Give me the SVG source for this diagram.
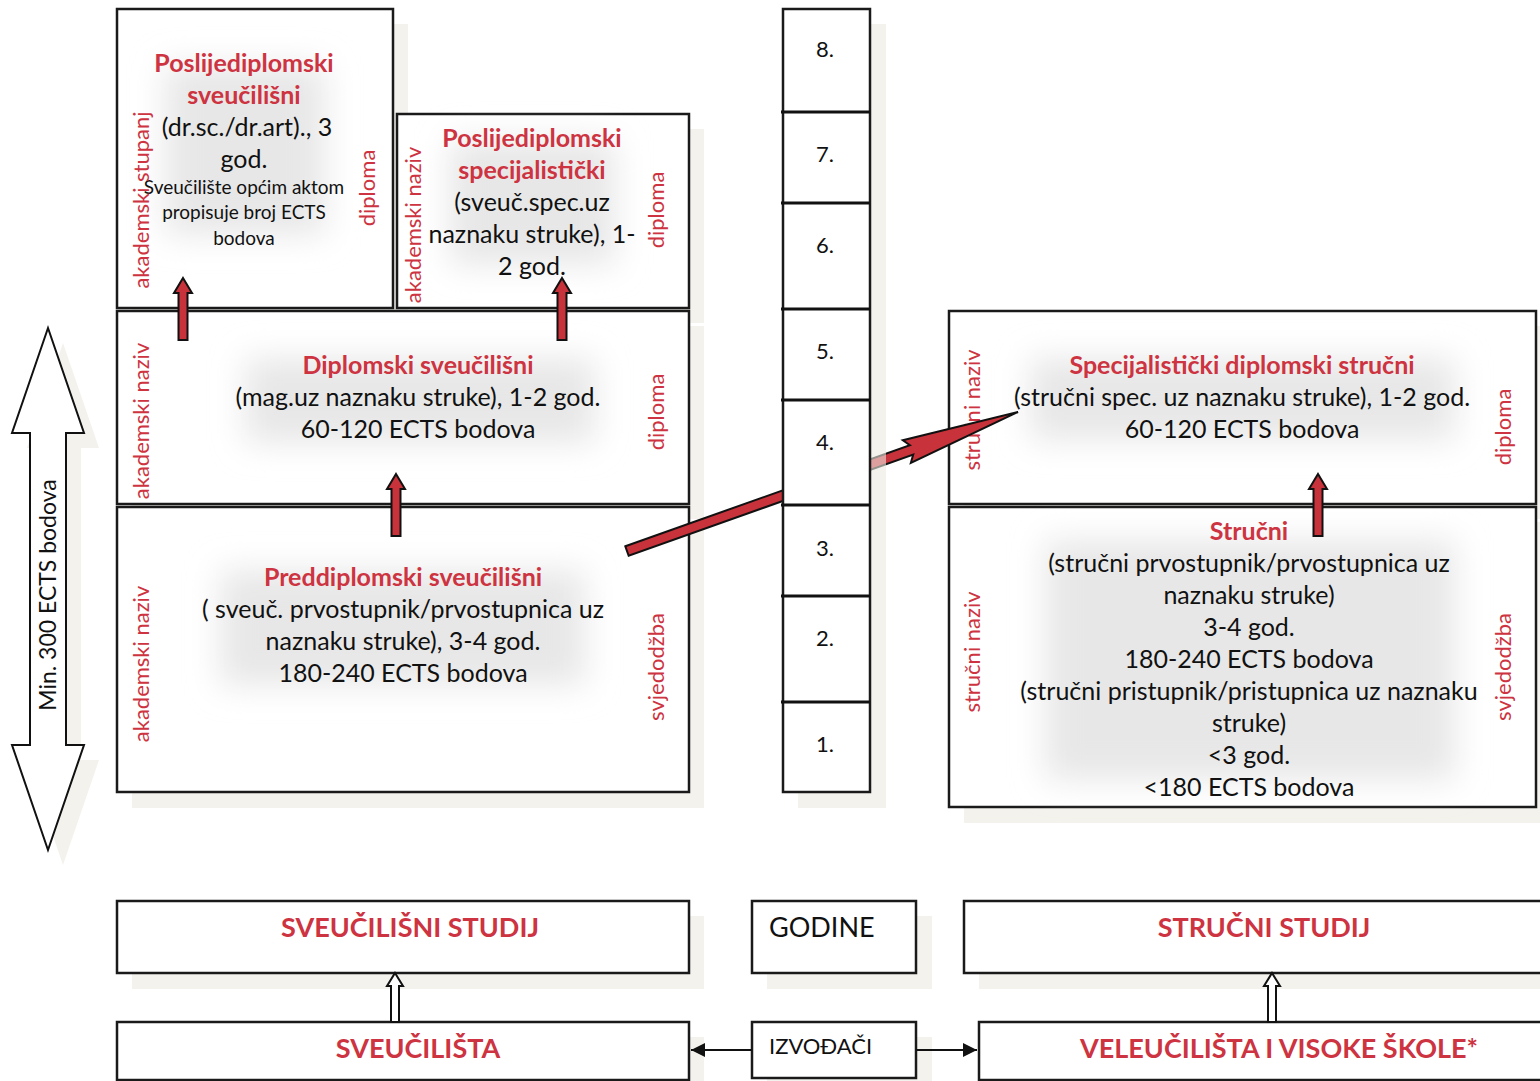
<svg xmlns="http://www.w3.org/2000/svg" width="1540" height="1081" viewBox="0 0 1540 1081">
<defs>
<style>
.box{fill:#fff;stroke:#1a1a1a;stroke-width:2.5}
.sh{fill:#f3f2ed}
.glow{fill:#e7e7e7;filter:url(#blur)}
.t{font-family:Lato,"Liberation Sans",sans-serif;font-size:25px;fill:#111;text-anchor:middle}
.tl{font-family:Lato,"Liberation Sans",sans-serif;fill:#111;text-anchor:start}
.ts{font-family:Lato,"Liberation Sans",sans-serif;font-size:19px;fill:#111;text-anchor:middle}
.h{font-family:Lato,"Liberation Sans",sans-serif;font-size:25px;font-weight:bold;fill:#cd3340;text-anchor:middle}
.side{font-family:Lato,"Liberation Sans",sans-serif;font-size:22px;fill:#cd3340;text-anchor:middle}
.big{font-family:Lato,"Liberation Sans",sans-serif;font-size:27px;font-weight:bold;fill:#cd3340;text-anchor:middle}
.yr{font-family:Lato,"Liberation Sans",sans-serif;font-size:22px;fill:#111;text-anchor:middle}
.red{fill:#c8323a;stroke:#111;stroke-width:2}
.hol{fill:#fff;stroke:#111;stroke-width:2}
</style>
<filter id="blur" x="-50%" y="-50%" width="200%" height="200%"><feGaussianBlur stdDeviation="16"/></filter>
<path id="rarrow" d="M0,0 L9,15 L4.5,15 L4.5,62 L-4.5,62 L-4.5,15 L-9,15 Z"/>
<path id="harrow" d="M0,0 L8,13 L4,13 L4,49 L-4,49 L-4,13 L-8,13 Z"/>
<marker id="ah" viewBox="0 0 14 14" refX="14" refY="7" markerWidth="14" markerHeight="14" markerUnits="userSpaceOnUse" orient="auto"><path d="M0,0 L14,7 L0,14 Z" fill="#111"/></marker>
</defs>
<rect width="1540" height="1081" fill="#fff"/>

<g id="ects-arrow">
<polygon class="sh" transform="translate(15,15)" points="48,328 84,433 66,433 66,745 84,745 48,850 12,745 30,745 30,433 12,433"/>
<polygon points="48,328 84,433 66,433 66,745 84,745 48,850 12,745 30,745 30,433 12,433" fill="#fff" stroke="#111" stroke-width="2"/>
<text class="t" transform="translate(56,595) rotate(-90)" font-size="23" style="font-size:23px">Min. 300 ECTS bodova</text>
</g>

<g id="node-postgrad-univ">
<rect class="sh" x="132" y="24" width="276" height="299"/>
<rect class="box" x="117" y="9" width="276" height="299"/>
<rect class="glow" x="165" y="65" width="160" height="170"/>
<text class="h" x="244" y="72">Poslijediplomski</text>
<text class="h" x="244" y="104">sveučilišni</text>
<text class="t" x="247" y="136">(dr.sc./dr.art)., 3</text>
<text class="t" x="244" y="168">god.</text>
<text class="ts" x="244" y="194">Sveučilište općim aktom</text>
<text class="ts" x="244" y="219">propisuje broj ECTS</text>
<text class="ts" x="244" y="245">bodova</text>
<text class="side" transform="translate(149,200) rotate(-90)">akademski stupanj</text>
<text class="side" transform="translate(375,188) rotate(-90)">diploma</text>
</g>

<g id="node-postgrad-spec">
<rect class="sh" x="412" y="129" width="292" height="194"/>
<rect class="box" x="397" y="114" width="292" height="194"/>
<rect class="glow" x="450" y="140" width="165" height="125"/>
<text class="h" x="532" y="147">Poslijediplomski</text>
<text class="h" x="532" y="179">specijalistički</text>
<text class="t" x="532" y="211">(sveuč.spec.uz</text>
<text class="t" x="532" y="243">naznaku struke), 1-</text>
<text class="t" x="532" y="275">2 god.</text>
<text class="side" transform="translate(421,225) rotate(-90)">akademski naziv</text>
<text class="side" transform="translate(664,210) rotate(-90)">diploma</text>
</g>

<g id="node-diplomski">
<rect class="sh" x="132" y="326" width="572" height="193"/>
<rect class="box" x="117" y="311" width="572" height="193"/>
<rect class="glow" x="245" y="358" width="350" height="85"/>
<text class="h" x="418" y="374">Diplomski sveučilišni</text>
<text class="t" x="418" y="406">(mag.uz naznaku struke), 1-2 god.</text>
<text class="t" x="418" y="438">60-120 ECTS bodova</text>
<text class="side" transform="translate(149,421) rotate(-90)">akademski naziv</text>
<text class="side" transform="translate(664,412) rotate(-90)">diploma</text>
</g>

<g id="node-preddiplomski">
<rect class="sh" x="132" y="522" width="572" height="286"/>
<rect class="box" x="117" y="507" width="572" height="285"/>
<rect class="glow" x="220" y="570" width="365" height="115"/>
<text class="h" x="403" y="586">Preddiplomski sveučilišni</text>
<text class="t" x="403" y="618">( sveuč. prvostupnik/prvostupnica uz</text>
<text class="t" x="403" y="650">naznaku struke), 3-4 god.</text>
<text class="t" x="403" y="682">180-240 ECTS bodova</text>
<text class="side" transform="translate(149,664) rotate(-90)">akademski naziv</text>
<text class="side" transform="translate(664,667) rotate(-90)">svjedodžba</text>
</g>

<g id="node-spec-strucni">
<rect class="sh" x="964" y="326" width="590" height="193"/>
<rect class="box" x="949" y="311" width="587" height="193"/>
<rect class="glow" x="1030" y="358" width="425" height="82"/>
<text class="h" x="1242" y="374">Specijalistički diplomski stručni</text>
<text class="t" x="1242" y="406">(stručni spec. uz naznaku struke), 1-2 god.</text>
<text class="t" x="1242" y="438">60-120 ECTS bodova</text>
<text class="side" transform="translate(980,410) rotate(-90)">stručni naziv</text>
<text class="side" transform="translate(1511,427) rotate(-90)">diploma</text>
</g>

<g id="node-strucni">
<rect class="sh" x="964" y="522" width="590" height="301"/>
<rect class="box" x="949" y="507" width="587" height="300"/>
<rect class="glow" x="1045" y="540" width="410" height="240"/>
<text class="h" x="1249" y="540">Stručni</text>
<text class="t" x="1249" y="572">(stručni prvostupnik/prvostupnica uz</text>
<text class="t" x="1249" y="604">naznaku struke)</text>
<text class="t" x="1249" y="636">3-4 god.</text>
<text class="t" x="1249" y="668">180-240 ECTS bodova</text>
<text class="t" x="1249" y="700">(stručni pristupnik/pristupnica uz naznaku</text>
<text class="t" x="1249" y="732">struke)</text>
<text class="t" x="1249" y="764">&lt;3 god.</text>
<text class="t" x="1249" y="796">&lt;180 ECTS bodova</text>
<text class="side" transform="translate(980,652) rotate(-90)">stručni naziv</text>
<text class="side" transform="translate(1511,667) rotate(-90)">svjedodžba</text>
</g>

<g id="node-sveucilisni-studij">
<rect class="sh" x="132" y="916" width="572" height="73"/>
<rect class="box" x="117" y="901" width="572" height="72"/>
<text class="big" x="410" y="937">SVEUČILIŠNI STUDIJ</text>
</g>
<g id="node-godine">
<rect class="sh" x="767" y="916" width="165" height="73"/>
<rect class="box" x="752" y="901" width="164" height="72"/>
<text class="tl" x="769" y="937" style="font-size:27px">GODINE</text>
</g>
<g id="node-strucni-studij">
<rect class="sh" x="979" y="916" width="580" height="73"/>
<rect class="box" x="964" y="901" width="590" height="72"/>
<text class="big" x="1264" y="937">STRUČNI STUDIJ</text>
</g>
<g id="node-sveucilista">
<rect class="sh" x="132" y="1037" width="572" height="60"/>
<rect class="box" x="117" y="1022" width="572" height="58"/>
<text class="big" x="418" y="1058">SVEUČILIŠTA</text>
</g>
<g id="node-izvodaci">
<rect class="sh" x="767" y="1037" width="165" height="60"/>
<rect class="box" x="752" y="1022" width="164" height="56"/>
<text class="tl" x="769" y="1054" style="font-size:22px">IZVOĐAČI</text>
</g>
<g id="node-veleucilista">
<rect class="sh" x="994" y="1037" width="580" height="60"/>
<rect class="box" x="979" y="1022" width="590" height="58"/>
<text class="big" x="1279" y="1058">VELEUČILIŠTA I VISOKE ŠKOLE*</text>
</g>

<g id="connectors">
<use href="#rarrow" class="red" x="183" y="278"/>
<use href="#rarrow" class="red" x="562" y="278"/>
<use href="#rarrow" class="red" x="396" y="474"/>
<use href="#rarrow" class="red" x="1318" y="474"/>
<polygon class="red" transform="translate(627,551) rotate(-19.57)" points="0,-5 302,-5 297,-12 415,0 297,12 302,5 0,5"/>
<use href="#harrow" class="hol" x="395" y="973"/>
<use href="#harrow" class="hol" x="1272" y="973"/>
<line x1="752" y1="1050" x2="691" y2="1050" stroke="#111" stroke-width="2" marker-end="url(#ah)"/>
<line x1="916" y1="1050" x2="977" y2="1050" stroke="#111" stroke-width="2" marker-end="url(#ah)"/>
</g>

<g id="node-years">
<rect x="798" y="24" width="88" height="784" fill="#ebe9e1" opacity="0.6"/>
<rect class="box" x="783" y="9" width="87" height="783"/>
<g stroke="#111" stroke-width="3">
<line x1="781" y1="112" x2="870" y2="112"/>
<line x1="781" y1="203" x2="870" y2="203"/>
<line x1="781" y1="309" x2="870" y2="309"/>
<line x1="781" y1="400" x2="870" y2="400"/>
<line x1="781" y1="505" x2="870" y2="505"/>
<line x1="781" y1="596" x2="870" y2="596"/>
<line x1="781" y1="702" x2="870" y2="702"/>
</g>
<text class="yr" x="825" y="57">8.</text>
<text class="yr" x="825" y="162">7.</text>
<text class="yr" x="825" y="253">6.</text>
<text class="yr" x="825" y="359">5.</text>
<text class="yr" x="825" y="450">4.</text>
<text class="yr" x="825" y="556">3.</text>
<text class="yr" x="825" y="646">2.</text>
<text class="yr" x="825" y="752">1.</text>
</g>
</svg>
